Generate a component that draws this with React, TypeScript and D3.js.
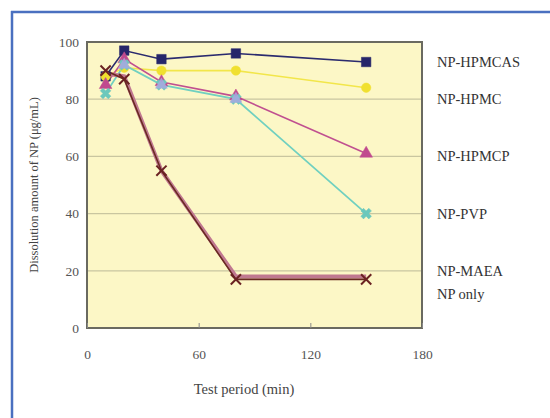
import { useEffect, useRef } from "react";
import * as d3 from "d3";

const times = [10, 20, 40, 80, 150];
const seriesNames = ["NP-HPMCAS", "NP-HPMC", "NP-HPMCP", "NP-PVP", "NP-MAEA", "NP only"];
const hpmcas = [88, 97, 94, 96, 93];
const hpmc = [88, 91, 90, 90, 84];
const hpmcp = [85, 94, 86, 81, 61];
const pvp = [82, 92, 85, 80, 40];
const maea = [90, 87, 55, 17, 17];
const npOnly = [89, 88, 55, 18, 18];
const xTicks = [0, 60, 120, 180];
const yTicks = [0, 20, 40, 60, 80, 100];
const labelValues = [93, 80, 60, 40, 20, 12];

export default function App() {
  const ref = useRef<SVGSVGElement>(null);

  useEffect(() => {
    if (!ref.current) return;
    const svg = d3.select(ref.current);
    svg.selectAll("*").remove();

    const width = 550;
    const height = 418;
    const margin = { top: 42, right: 128, bottom: 90, left: 87 };

    const x = d3.scaleLinear().domain([0, 180]).range([margin.left, width - margin.right]);
    const y = d3.scaleLinear().domain([0, 100]).range([height - margin.bottom, margin.top]);

    // outer frame (blue, only top and left visible)
    svg.append("rect").attr("width", width).attr("height", height).attr("fill", "#fff");
    svg.append("line").attr("x1", 11).attr("x2", width).attr("y1", 12).attr("y2", 12)
      .attr("stroke", "#4a70c0").attr("stroke-width", 2.5);
    svg.append("line").attr("x1", 12).attr("x2", 12).attr("y1", 11).attr("y2", height)
      .attr("stroke", "#4a70c0").attr("stroke-width", 2.5);

    // plot background
    svg.append("rect")
      .attr("x", x(0)).attr("y", y(100))
      .attr("width", x(180) - x(0)).attr("height", y(0) - y(100))
      .attr("fill", "#fcf7c6");

    // gridlines
    svg.append("g")
      .selectAll("line")
      .data(yTicks.filter((d) => d > 0 && d < 100))
      .join("line")
      .attr("x1", x(0)).attr("x2", x(180))
      .attr("y1", (d) => y(d)).attr("y2", (d) => y(d))
      .attr("stroke", "#c9c6a0").attr("stroke-width", 1.2);

    // plot border
    svg.append("rect")
      .attr("x", x(0)).attr("y", y(100))
      .attr("width", x(180) - x(0)).attr("height", y(0) - y(100))
      .attr("fill", "none").attr("stroke", "#6a6a60").attr("stroke-width", 2);

    // axes
    const xAxis = svg.append("g")
      .attr("transform", `translate(0,${y(0)})`)
      .call(d3.axisBottom(x).tickValues(xTicks).tickSize(-5).tickPadding(21).tickFormat(d3.format("d")));
    xAxis.select(".domain").remove();
    xAxis.selectAll("line").attr("stroke", "#888");
    xAxis.selectAll("text")
      .attr("fill", "#555").style("font-family", "Liberation Serif").style("font-size", "13.5px");

    const yAxis = svg.append("g")
      .attr("transform", `translate(${x(0)},0)`)
      .call(d3.axisLeft(y).tickValues(yTicks).tickSize(0).tickPadding(8).tickFormat(d3.format("d")));
    yAxis.select(".domain").remove();
    yAxis.selectAll("text")
      .attr("fill", "#555").style("font-family", "Liberation Serif").style("font-size", "13.5px");

    const data = [
      { name: seriesNames[0], values: hpmcas, color: "#2b2b6e", width: 1.6, marker: "square", mColor: "#26266a" },
      { name: seriesNames[1], values: hpmc, color: "#f2e64a", width: 1.6, marker: "circle", mColor: "#f0e030" },
      { name: seriesNames[2], values: hpmcp, color: "#c05090", width: 1.6, marker: "triangle", mColor: "#c04a8e" },
      { name: seriesNames[3], values: pvp, color: "#70d0c0", width: 1.8, marker: "cross", mColor: "#6cc8bc" },
      { name: seriesNames[5], values: npOnly, color: "#c07890", width: 4, marker: "none", mColor: "#c07890" },
      { name: seriesNames[4], values: maea, color: "#6a2a22", width: 1.6, marker: "x", mColor: "#6a2222" },
    ];

    const line = d3.line<number>()
      .x((_, i) => x(times[i]))
      .y((d) => y(d));

    data.forEach((s) => {
      svg.append("path")
        .datum(s.values)
        .attr("d", line)
        .attr("fill", "none")
        .attr("stroke", s.color)
        .attr("stroke-width", s.width);
    });

    const symbolMap: Record<string, d3.SymbolType> = {
      square: d3.symbolSquare,
      circle: d3.symbolCircle,
      triangle: d3.symbolTriangle,
      cross: d3.symbolCross,
      x: d3.symbolX,
    };

    data.forEach((s) => {
      if (s.marker === "none") return;
      const sym = d3.symbol().type(symbolMap[s.marker]).size(s.marker === "square" ? 90 : 70);
      svg.append("g")
        .selectAll("path")
        .data(s.values)
        .join("path")
        .attr("transform", (d, i) => `translate(${x(times[i])},${y(d)})${s.marker === "cross" ? " rotate(45)" : ""}`)
        .attr("d", sym as any)
        .attr("fill", s.marker === "x" ? "none" : s.mColor)
        .attr("stroke", s.mColor)
        .attr("stroke-width", s.marker === "x" ? 2 : 0.5);
    });

    // PVP points overlapping HPMCP look lavender
    svg.append("g")
      .selectAll("path")
      .data(pvp.slice(1, 4))
      .join("path")
      .attr("transform", (d, i) => `translate(${x(times[i + 1])},${y(d)})`)
      .attr("d", d3.symbol().type(d3.symbolTriangle).size(70) as any)
      .attr("fill", "#a8a8e0")
      .attr("opacity", 0.85);

    // right-side labels
    svg.append("g")
      .selectAll("text")
      .data(seriesNames)
      .join("text")
      .attr("x", 437)
      .attr("y", (_, i) => y(labelValues[i]))
      .attr("dy", "0.35em")
      .attr("fill", "#333")
      .style("font-family", "Liberation Serif")
      .style("font-size", "14.5px")
      .text((d) => d);

    // axis titles
    svg.append("text")
      .attr("x", 244)
      .attr("y", 394)
      .attr("text-anchor", "middle")
      .attr("fill", "#444")
      .style("font-family", "Liberation Serif")
      .style("font-size", "14.5px")
      .text("Test period (min)");

    svg.append("text")
      .attr("transform", `translate(38,${y(50)}) rotate(-90)`)
      .attr("text-anchor", "middle")
      .attr("fill", "#444")
      .style("font-family", "Liberation Serif")
      .style("font-size", "12.5px")
      .text("Dissolution amount of NP (μg/mL)");
  }, []);

  return (
    <svg
      ref={ref}
      width={550}
      height={418}
      style={{ position: "absolute", left: 0, top: 0, display: "block" }}
    ></svg>
  );
}
